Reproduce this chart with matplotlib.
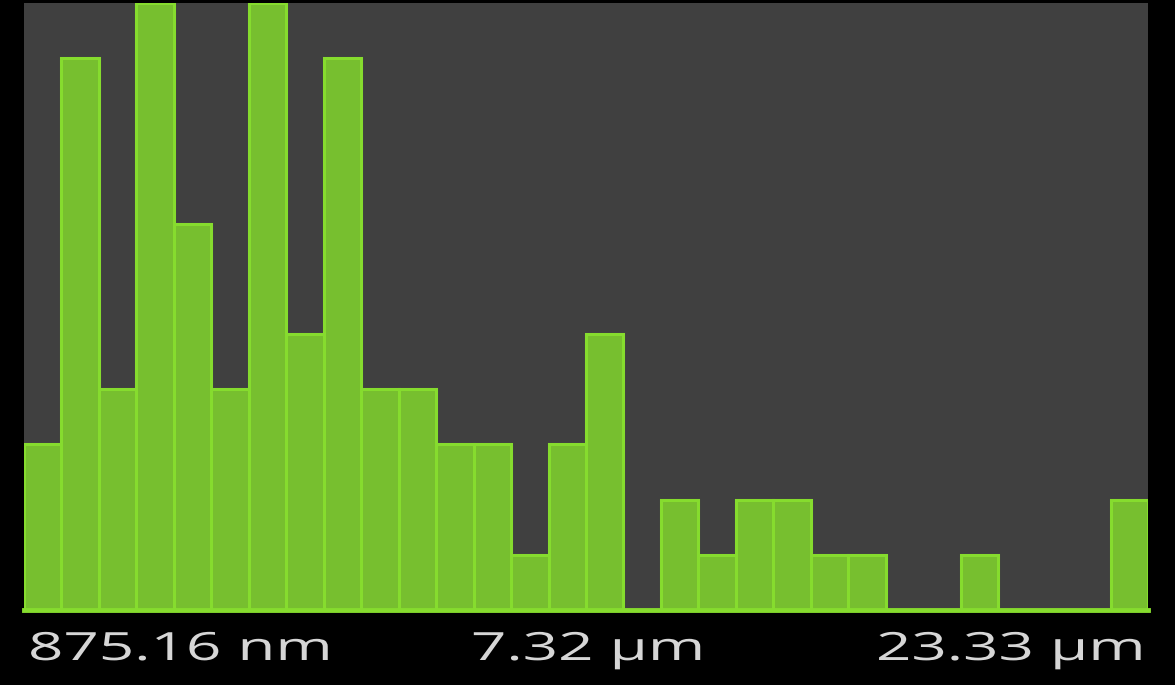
import matplotlib
matplotlib.use("Agg")
import matplotlib.pyplot as plt
from matplotlib.patheffects import AbstractPathEffect
from matplotlib.transforms import Affine2D
import numpy as np

counts = [3, 10, 4, 11, 7, 4, 11, 5, 10, 4, 4, 3, 3, 1, 3, 5, 0, 2, 1, 2, 2, 1, 1, 0, 0, 1, 0, 0, 0, 2]
labels = ["875.16 nm", "7.32 µm", "23.33 µm"]


class HStretch(AbstractPathEffect):
    """Draw the text glyphs stretched horizontally about the text origin."""
    def __init__(self, sx):
        super().__init__()
        self.sx = sx

    def draw_path(self, renderer, gc, tpath, affine, rgbFace=None):
        renderer.draw_path(gc, tpath, Affine2D().scale(self.sx, 1.0) + affine, rgbFace)


W, H = 1175, 685
fig = plt.figure(figsize=(W / 100, H / 100), dpi=100, facecolor="black")
left, right, top, bottom = 24, 1148, 3, 610
ax = fig.add_axes([left / W, (H - bottom) / H, (right - left) / W, (bottom - top) / H])
ax.set_facecolor("#404040")

x = np.arange(len(counts))
ax.bar(x, counts, width=1.0, align="edge", color="#77bf2f", edgecolor="#86dc2e", linewidth=2.2)
ax.set_xlim(0, len(counts))
ax.set_ylim(0, 11)
ax.axhline(0, color="#86dc2e", linewidth=3.5, clip_on=False)

for s in ["top", "left", "right", "bottom"]:
    ax.spines[s].set_visible(False)
ax.set_xticks([])
ax.set_yticks([])

font = dict(family=["Open Sans", "DejaVu Sans"], fontsize=28, color="#d6d6d6")
yb = (H - 660) / H
lefts = [28, 471, 876]
texts = [fig.text(lx / W, yb, lab, ha="left", va="baseline", **font) for lx, lab in zip(lefts, labels)]

# measure natural width of first label and compute horizontal stretch to match
fig.canvas.draw()
r = fig.canvas.get_renderer()
w0 = texts[0].get_window_extent(r).width
sx = 305.0 / w0
for t in texts:
    t.set_path_effects([HStretch(sx)])

fig.savefig("out.png", dpi=100, facecolor="black")
